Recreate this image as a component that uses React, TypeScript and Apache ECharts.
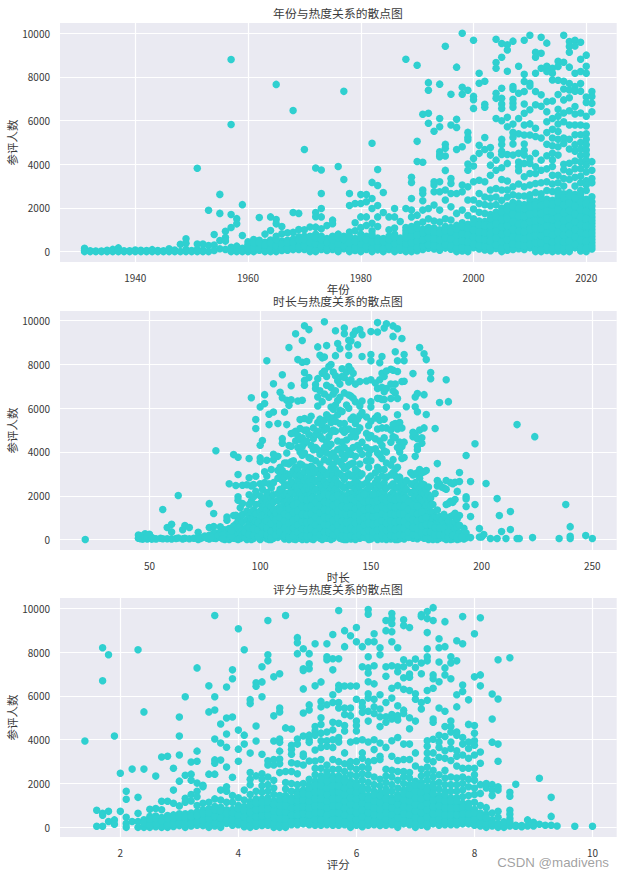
import React, { useEffect, useRef } from "react";
import * as echarts from "echarts";

const titles = ["年份与热度关系的散点图", "时长与热度关系的散点图", "评分与热度关系的散点图"];
const xNames = ["年份", "时长", "评分"];
const yName = "参评人数";
const yTicks = [0, 2000, 4000, 6000, 8000, 10000];
const yearTicks = [1940, 1960, 1980, 2000, 2020];
const lengthTicks = [50, 100, 150, 200, 250];
const ratingTicks = [2, 4, 6, 8, 10];

// each row: x value followed by the y values read at that x
const yearRows: number[][] = [
  [1931,150,60,0],[1932,40,0],[1933,30,0],[1934,30,0],[1935,60,0],[1936,100,0],[1937,170,40,0],[1938,40,0],[1939,40,0],
  [1940,70,0],[1941,60,0],[1942,50,0],[1943,90,0],[1944,50,0],[1945,40,0],[1946,130,0],[1947,70,0],[1948,340,0],
  [1949,590,380,100,0],[1950,50,0],[1951,3820,350,100,0],[1952,350,60,0],[1953,1890,280,0],[1954,780,300,50],
  [1955,2620,1750,510,130],[1956,930,640,480,100],[1957,8800,5820,1700,1100,200,0],[1958,1510,1270,250,0],[1959,2150,740,150,0],
  [1960,450,250,100,0],[1961,550,300,60,0],[1962,1560,520,250,60],[1963,800,430,150,0],[1964,1590,970,530,220,0],
  [1965,7660,1470,1270,700,400,150,0],[1966,1150,820,480,240,50],[1967,860,520,280,60],[1968,6460,1790,880,560,300,90],
  [1969,1750,1010,680,350,100],[1970,4680,1000,700,400,100],[1971,1130,560,250,0],[1972,3830,1790,1600,1120,800,500,200,0],
  [1973,3740,2660,1970,1590,1050,700,400,100],[1974,1190,600,300,50],[1975,1440,1280,700,400,100],[1976,3900,800,500,200,0],
  [1977,7340,3300,700,420,130],[1978,2660,2110,900,550,250,0],[1979,2200,1320,950,600,300,50],[1980,2610,2200,1590,1100,800,500,200,0],
  [1981,2610,2280,1590,1200,700,400,100],[1982,4960,3170,2430,1970,1300,950,600,300,0],[1983,3760,3030,2110,1590,1150,620,350,80],
  [1984,2710,1790,600,300,0],[1985,1590,1000,700,400,100],[1986,1970,1590,1080,800,500,200,0],[1987,1380,620,320,60],
  [1988,8810,1970,1100,800,500,230,0],[1989,3400,3170,2430,1900,1590,1150,850,550,260,0],[1990,8540,5050,4130,1670,1250,900,620,310,40],
  [1991,6290,4090,2820,2660,2330,1900,1350,1020,700,400,100],[1992,7740,7390,6340,5880,1970,1500,1100,780,460,150],
  [1993,5510,3200,3050,2740,2130,1400,1080,750,420,120],[1994,7670,6100,5720,4570,4420,4350,3200,2740,1900,1350,1000,680,350,60],
  [1995,9410,4910,4730,4380,3720,2820,2360,1500,1150,800,480,160],[1996,7210,5800,3350,3120,2660,2050,1450,1100,750,430,110],
  [1997,8450,6060,5690,4680,2660,1750,1200,900,600,300,0],[1998,10000,7530,7210,4800,3050,2740,1900,1320,980,650,330,30],
  [1999,7390,5460,5230,5110,4010,3730,2970,2360,1650,1250,900,600,280,0],[2000,9680,7110,6960,6560,4270,3920,3200,2360,1950,1500,1150,820,500,180],
  [2001,8170,7710,4870,4500,3270,2660,2200,1800,1400,1050,750,420,120],[2002,7800,6750,6610,5230,4680,3200,2500,2150,1750,1380,1020,700,380,70],
  [2003,4770,4420,3960,3500,2820,2450,2100,1700,1350,1000,680,350,40],[2004,9730,8660,8400,7250,7020,6100,4190,3730,2890,2500,2150,1800,1450,1100,780,460,140],
  [2005,9530,8900,7480,7020,6760,6560,5990,5140,4910,4600,4450,3840,3300,2820,2350,2000,1650,1300,950,620,300,0],
  [2006,9470,9240,8260,6150,5720,4450,4040,3230,2820,2500,2100,1700,1350,1000,700,380,60],
  [2007,9640,7560,7440,6980,6790,6610,5840,5460,5230,4930,4420,2970,2600,2250,1900,1550,1200,850,520,190],
  [2008,8490,7250,6100,5400,4500,4100,3900,3700,3100,2550,2200,1800,1450,1100,780,450,130],
  [2009,9680,8120,7790,7330,6760,6340,5800,5340,4930,4640,4420,4040,3430,2970,2550,2150,1800,1420,1080,740,420,100],
  [2010,9910,7710,7590,6500,5850,5340,4270,4040,3580,3050,2600,2250,1900,1550,1200,850,500,170],
  [2011,9130,8900,8170,7330,6730,5650,5270,4500,3890,3580,3120,2700,2300,1950,1600,1250,900,580,260,0],
  [2012,9820,9090,8400,7180,6660,5200,4190,3730,3150,2650,2300,1950,1580,1240,880,560,230,0],
  [2013,9550,8490,8250,6870,6410,5950,5450,4920,4390,3790,3200,2800,2400,2050,1700,1350,1000,700,360,50],
  [2014,8400,8170,7860,6900,6100,5600,5200,4850,4500,4200,3900,3500,3100,2750,2350,2000,1650,1300,950,600,280,0],
  [2015,8720,8480,7850,7200,6520,6200,5850,5500,5150,4800,4420,3500,3150,2800,2450,2100,1750,1400,1050,700,350,30],
  [2016,9910,8670,7800,7450,6950,6350,5950,5200,4950,4000,3750,3350,3000,2650,2300,1950,1600,1250,900,600,280,0],
  [2017,9620,9390,9130,8450,7700,7400,7050,6450,5800,5150,4700,4050,3650,3300,2700,2400,2050,1700,1350,1000,650,300,0],
  [2018,9680,9420,8170,7560,7350,6650,6300,5800,5350,4900,4600,4150,3800,3400,3000,2620,2280,1900,1550,1200,850,500,170],
  [2019,9590,8810,8250,7700,7350,6350,5800,5350,5000,4700,4400,4100,3800,3450,3150,2800,2450,2100,1750,1400,1050,700,350,30],
  [2020,9000,8490,8170,7080,6830,6200,5750,5400,5150,4900,4650,4450,4200,3950,3650,3250,3050,2800,2400,2050,1700,1350,1000,650,300,0],
  [2021,7330,7100,6790,6410,4120,3730,3350,3150,2510,2280,1900,1590,1300,1000,700,400,120],
];

// the solid band low in the first chart
const yearBand: number[][] = [
  [1960,120,340],[1961,180,420],[1962,150,400],[1963,70,300],[1964,110,380],[1965,80,280,540],[1966,140,360],[1967,160,400],[1968,190,430],[1969,210,520],
  [1970,250,550],[1971,130,400,700],[1972,100,350,650],[1973,250,550],[1974,170,420],[1975,250,550],[1976,100,350,650],[1977,270,560],[1978,120,400,700],[1979,170,450],
  [1980,100,350,650],[1981,250,550],[1982,150,450,780],[1983,210,490],[1984,150,450],[1985,250,550],[1986,100,350,650],[1987,190,470],
  [1988,120,370,650,950],[1989,130,400,700,1000],[1990,180,470,760,1080],[1991,250,550,850],[1992,300,620,940],[1993,270,590,910],[1994,200,520,840],
  [1995,320,640,970],[1996,270,590,920],[1997,150,450,750,1050],[1998,180,490,810,1150],[1999,140,440,750,1080],[2000,340,660,980,1320],
  [2001,270,590,900,1220],[2002,220,540,860,1200],[2003,190,520,840,1170,1520],[2004,300,620,940,1270,1620],[2005,150,460,790,1120,1470,1820],
  [2006,220,540,850,1180,1520,1900],[2007,100,350,680,1020,1370,1720,2070],[2008,290,610,940,1270,1620,2000],[2009,260,580,910,1250,1610,1970],
  [2010,330,670,1020,1370,1720,2070,2420],[2011,130,420,740,1070,1420,1770,2120],[2012,110,390,720,1060,1410,1760,2120,2470],
  [2013,200,530,850,1170,1520,1870,2220],[2014,140,440,770,1120,1470,1820,2170],[2015,190,520,870,1220,1570,1920,2270,2620],
  [2016,140,440,750,1070,1420,1770,2120,2470],[2017,150,470,820,1170,1520,1870,2220,2550],[2018,330,670,1020,1370,1720,2090,2450],
  [2019,190,520,870,1220,1570,1920,2270,2620],[2020,150,470,820,1170,1520,1870,2220],[2021,260,550,850,1150,1440,1740,2090],
];

const lengthRows: number[][] = [
  [21,0],[45,210,60],[46,170,40],[47,100,20],[48,260,60],[49,150,30],[50,240,60],[51,90,20],[52,50],[53,30],[55,60],[56,1370,40],[58,550,40],[60,700,350,30],
  [62,50],[63,2010,70],[65,450,30],[66,640,60],[68,550,40],[70,60],[72,330,120,0],[74,90],[77,1640,550,200,30],[79,1190,600,300,60],[80,4060,300,50],
  [82,580,350,100],[84,450,200,0],[85,1030,880,380,130],[86,2550,500,240,0],[88,3880,1100,620,300,60],[89,2470,1110,700,350,50],[90,3760,2970,1950,1800,850,500,200,0],
  [91,1450,1000,600,300,50],[92,2480,1650,1150,800,450,100],[94,2500,1300,900,550,240,0],[95,3700,2820,2050,1600,1100,700,380,80],[96,6480,2450,1750,1250,950,600,300,0],
  [97,2510,1950,1350,1000,650,350,50],[98,5480,5070,2890,2200,1600,1180,820,500,180],[100,6060,4310,3730,3560,2550,2000,1650,1300,950,620,300,0],
  [101,4520,2300,1800,1450,1100,780,450,120],[102,6620,6210,3100,2600,1900,1500,1150,800,470,150],[103,8170,3620,2900,2150,1750,1350,1000,680,350,40],
  [104,5720,5250,2550,2000,1600,1250,900,580,250,0],[105,3200,2350,1900,1500,1200,880,550,220,0],[106,7120,5830,3900,3650,2600,2050,1700,1350,1020,700,380,60],
  [108,5300,3800,3150,2800,2100,1780,1420,1090,760,430,100],[109,6730,3300,2900,2300,1850,1500,1150,820,500,170],[110,7530,6480,4610,4400,3150,2700,2200,1850,1500,1150,820,500,170],
  [111,5830,3500,2850,2450,2050,1700,1350,1000,680,350,30],[112,6360,5250,3950,3500,3000,2500,2100,1750,1400,1050,720,400,80],
  [113,8770,6130,4300,3450,2900,2450,1950,1600,1250,900,580,250,0],[114,7030,6390,4840,4260,3550,3000,2650,2200,1800,1450,1100,780,450,120],
  [115,4870,3600,3150,2550,2100,1750,1400,1050,700,350,30],[116,9400,4950,4500,3300,2900,2400,2050,1680,1320,980,650,320,0],
  [117,8220,6330,4750,4200,3200,2700,2250,1850,1500,1150,820,500,180],[118,5480,5070,4550,4000,3450,2950,2500,2100,1750,1400,1050,720,380,60],
  [119,9090,8100,6360,4650,4250,3850,3400,2900,2450,2050,1680,1320,980,650,320,0],[120,9770,7630,7270,7050,5530,4990,4400,3950,3100,2700,2250,1850,1500,1150,800,480,150],
  [121,8130,5000,4500,3300,2800,2400,2000,1650,1300,950,620,300,0],[122,9590,7400,5450,4800,3750,3100,2650,2250,1900,1550,1200,850,520,200],
  [123,5630,4300,3700,3350,2900,2450,2050,1700,1350,1000,680,350,40],[124,5100,4600,4100,3250,2750,2350,1950,1600,1250,900,580,260,0],
  [125,7080,6900,4800,4200,3600,3050,2650,2250,1900,1550,1200,850,520,190],[126,8800,7350,6510,6100,5350,4950,4100,3150,2700,2300,1900,1550,1200,850,500,170],
  [127,8420,6800,5500,4750,3900,3450,2950,2500,2100,1750,1400,1050,720,380,60],[128,8300,7600,6300,5200,4600,4000,3200,2800,2350,1950,1600,1250,900,580,250,0],
  [129,9950,8340,7700,6650,5450,5000,4200,3650,3100,2650,2250,1900,1550,1200,850,520,190],[130,8860,7450,7050,5700,5100,4450,3950,2950,2500,2100,1750,1400,1050,720,380,60],
  [131,7900,6500,5600,4700,4250,3550,3050,2600,2200,1850,1500,1150,820,500,170],[132,8000,6950,6050,5350,4900,4350,3800,3250,2750,2350,1950,1600,1250,900,580,250,0],
  [133,7650,6650,5950,5550,5000,3950,3450,2950,2500,2100,1750,1400,1050,720,380,60],[134,9540,8400,7480,6800,6150,5400,4950,3750,3200,2750,2300,1900,1550,1200,850,520,190],
  [135,8950,7250,6350,5700,4500,4100,3600,3050,2600,2200,1850,1500,1150,820,500,170],[136,8720,7100,6500,5900,5300,4150,3550,3000,2500,2100,1750,1400,1050,720,380,60],
  [137,7800,7450,5850,5000,4450,3900,3400,2900,2450,2050,1700,1350,1000,680,350,30],[138,9660,9400,7400,6700,5300,4900,4200,3700,3250,2750,2350,1950,1600,1250,900,580,250,0],
  [139,7650,6150,5000,4550,3850,3300,2900,2400,2000,1650,1300,950,620,300,0],[140,9100,8800,8420,7900,7200,6600,6000,5050,4050,3400,3000,2500,2100,1750,1400,1050,720,380,60],
  [141,9070,7750,7300,6550,5500,4700,3900,3450,2900,2450,2050,1700,1350,1000,680,350,30],[142,9370,7600,6450,5600,4950,4200,3500,2950,2550,2150,1800,1450,1100,780,450,120],
  [143,9530,7100,6300,5300,4700,3800,3200,2750,2350,1950,1600,1250,900,580,260,0],[144,8900,5500,4950,4300,3100,2600,2250,1900,1550,1200,850,520,200],
  [145,9590,7220,6100,5650,5100,4100,3450,2900,2450,2100,1750,1400,1050,720,380,60],[146,9360,8360,6330,5800,4450,3900,3000,2500,2150,1800,1450,1100,780,450,120],
  [148,7240,5600,4850,4200,3600,2600,2250,1900,1550,1200,850,520,190],[149,5200,4650,3900,3300,2800,2350,1950,1600,1250,900,580,260,0],
  [150,9500,8450,8170,7300,6300,6050,5400,4750,4100,3600,2900,2450,2050,1700,1350,1000,680,350,30],[152,7150,5550,4600,4150,3050,2600,2250,1900,1550,1200,850,520,190],
  [153,9910,9480,6900,6450,5650,5050,3950,3300,2750,2350,1950,1600,1250,900,580,260,0],[154,8080,7300,6440,5450,4500,3850,3200,2500,2100,1750,1400,1050,720,380,60],
  [155,8360,7600,6950,6400,5100,4300,3700,2900,2450,2050,1700,1350,1000,680,350,30],[156,9660,7450,6750,6400,5500,4650,4050,3200,2600,2200,1850,1500,1150,820,500,170],
  [157,9860,7700,6900,6050,5100,4000,3500,2850,2350,1950,1600,1250,900,580,260,0],[159,7780,7100,6440,5000,4450,3400,2950,2450,2050,1700,1350,1000,680,350,30],
  [160,9760,9280,7730,6800,5250,4700,3650,3050,2550,2150,1800,1450,1100,780,450,120],[161,8580,7100,6700,5300,4650,3200,2900,2400,2000,1650,1300,950,620,300,0],
  [162,9630,8170,7680,6440,5700,5050,4200,3300,2750,2350,1950,1600,1250,900,580,250,0],[163,5350,4450,4000,2850,2450,2050,1700,1350,1000,680,350,40],
  [164,9180,7220,5100,4250,3700,2600,2200,1850,1500,1150,820,500,170],[165,8450,8170,7230,4450,3750,2450,2050,1700,1350,1000,680,350,30],
  [166,6070,2700,2300,1900,1550,1200,850,520,190],[168,3050,2550,2150,1800,1450,1100,780,450,120],[169,7580,4900,4700,2950,2500,2100,1750,1400,1050,720,380,60],
  [170,6510,6070,4800,3800,3000,2600,2250,1900,1550,1200,850,520,200],[171,6670,5840,4600,4250,4100,3050,2450,2050,1700,1350,1000,680,350,40],
  [172,8770,5000,3200,2800,2300,1900,1550,1200,850,520,190],[173,4650,4400,3050,2550,2150,1800,1450,1100,780,450,120],[174,8490,6620,5100,3100,2500,2100,1750,1400,1050,720,380,60],
  [175,8220,5710,3150,2300,1900,1550,1200,850,520,200],[176,2400,2050,1650,1300,950,620,300,0],[177,7630,7350,1900,1550,1200,850,520,190],
  [178,1600,1250,950,620,300,0],[179,5070,2100,1050,700,380,60],[180,3470,2700,2450,1350,1000,600,300,0],[181,6260,2550,1050,720,380,60],[182,2400,900,500,180],
  [183,2350,1150,700,380,60],[184,7300,2700,2300,1600,1000,600,280,0],[185,6300,1650,850,520,200],[186,2600,1750,1050,600,280,0],[187,2550,1700,1100,700,350,30],
  [188,2620,1830,1200,800,450,120],[189,2200,950,560,250,0],[190,3060,2650,1100,650,300,40],[192,520,220,30],[193,3840,1950,1850,1510,300,80],[195,2650,1050,90],
  [197,4380,1600],[199,500,120],[200,120],[201,230],[202,2560],[204,50],[207,1870,50],[208,1100],[209,365],[211,50],[213,1280,457],[216,5250,50],[217,50],[223,90],[224,4700],
  [235,50],[238,1600],[240,590,150,50],[247,180],[250,50],
];

// the solid band low in the second chart
const lengthBand: number[][] = [
  [73,50],[75,160],[76,60],[78,120],[81,180],[83,220,40],[87,150,400],[92,230],[93,100,350],[95,220,540],[97,180,500],[99,140,450,780],
  [101,280,620],[103,200,520,850],[105,100,380,720],[107,210,540,880,1230],[109,340,660,1000,1320],[111,190,520,850,1180],
  [113,120,420,750,1080,1420],[115,190,530,880,1230,1580],[117,340,660,1000,1320,1680],[119,160,480,820,1150,1500,1860],
  [121,150,460,790,1130,1480,1820],[123,190,510,840,1180,1520,1870],[125,100,350,680,1030,1370,1720],[127,220,540,880,1220,1570,1920],
  [129,100,350,680,1020,1370,1720,2070],[131,330,660,980,1320,1670,2020],[133,210,540,880,1220,1570,1920],[135,330,660,980,1320,1670,2020],
  [137,180,510,840,1170,1520,1870],[139,150,460,790,1130,1470,1820],[141,180,510,840,1170,1520,1870],[143,120,420,740,1070,1420,1770],
  [145,210,540,880,1220,1570,1920],[147,100,350,680,1020,1370,1720,2070],[149,120,420,740,1070,1420,1770],[151,100,350,690,1040,1380,1730,2080],
  [153,120,420,740,1070,1420,1770],[155,200,520,850,1180,1520,1870],[157,130,420,740,1070,1420,1770],[159,190,510,840,1170,1520,1870],
  [161,150,460,790,1130,1470,1820],[163,200,520,850,1180,1520,1870],[165,190,510,840,1170,1520,1870],[167,100,350,680,1020,1370,1720],
  [169,220,550,890,1220,1570],[171,190,510,840,1170,1520],[173,290,610,940,1270],[175,100,350,680,1020],[177,100,350,680],[179,210,540],
  [181,210,540],[183,200,520],[185,100,350],[187,180],[189,100],[191,120],
];

const ratingRows: number[][] = [
  [1.4,3940],[1.6,780,50],[1.7,8200,6690,640,550,50],[1.8,7880,730,270],[1.9,4170,340,140],[2,2470,730],[2.1,1650,1280,460,180,0],[2.2,2660,270],
  [2.3,8110,1370,640,270,0],[2.4,5270,2660,350,100,0],[2.5,830,500,250,0],[2.6,2340,860,520,260,30],[2.7,3210,1190,800,450,160,0],[2.8,3250,1190,540,260,0],
  [2.9,2700,1700,1100,570,300,40],[3,5040,4170,3300,2110,980,620,320,80],[3.1,5960,2380,1330,1150,620,300,0],[3.2,2980,2430,2150,1500,1200,650,330,60],
  [3.3,7280,3480,3020,2020,1650,1400,1000,700,380,100],[3.4,1920,1850,1100,800,480,180],[3.5,6460,5270,2430,1150,850,520,220,0],
  [3.6,9670,5960,5360,4030,3080,2930,2430,1300,950,650,350,60],[3.7,4720,3850,3070,1700,1250,920,580,280,0],[3.8,6410,4990,4260,3660,2750,1850,1650,1150,800,480,180],
  [3.9,7190,6780,5040,2290,1450,1150,820,500,200],[4,9070,4440,3570,3020,1350,1000,720,400,120],[4.1,8110,4210,3800,1700,1250,950,620,320,30],
  [4.2,5830,5650,3390,2500,2200,1950,1500,1180,850,520,220,0],[4.3,6600,6440,4630,3940,2350,1650,1300,980,650,340,50],
  [4.4,7330,6640,5960,3340,2450,2200,1900,1600,1300,1000,680,380,90],[4.5,9440,7880,7600,3040,2850,2300,1950,1650,1350,1020,700,400,100],
  [4.6,6870,5090,3940,3100,2850,2150,1800,1500,1200,900,600,300,0],[4.7,7010,5450,5270,4030,3880,3480,3120,2900,2500,1450,1150,850,550,250,0],
  [4.8,9670,4540,2550,2050,1750,1450,1150,850,550,250,0],[4.9,4490,3750,3550,3340,2950,2550,2000,1650,1350,1050,720,420,120],
  [5,8660,8430,7930,4030,3800,2900,2450,1950,1650,1350,1050,720,420,120],[5.1,8150,7240,7160,6320,5220,4170,3350,3250,2850,2000,1700,1400,1100,780,470,160],
  [5.2,7930,7470,7240,5590,5360,4210,4000,3880,3030,2200,1950,1650,1350,1050,720,420,120],[5.3,8380,6460,4600,4400,4200,3530,3030,2700,2400,2100,1750,1450,1150,820,520,210],
  [5.4,6640,5750,5500,5000,4700,4300,3950,3650,3100,2700,2350,2050,1750,1450,1150,820,520,200],[5.5,8380,7790,7650,5600,4350,3950,3700,2850,2550,2250,1950,1650,1350,1050,720,420,120],
  [5.6,8800,7700,7190,6050,5700,4800,4450,4000,3650,3100,2650,2350,2050,1750,1450,1150,820,520,200],[5.7,9900,7700,6480,6300,5700,5450,4750,4100,3900,3000,2650,2350,2050,1750,1450,1150,820,520,200],
  [5.8,8980,8250,6450,5450,5150,4650,4400,3400,2900,2550,2250,1950,1650,1350,1050,720,420,120],[5.9,8750,6450,5450,5100,3900,3000,2750,2400,2100,1800,1500,1200,900,600,300,0],
  [6,9120,8470,6450,5850,4850,4650,4400,3950,3000,2650,2350,2050,1750,1450,1150,820,520,200],[6.1,8250,7330,5700,5500,5250,4000,3400,3150,2750,2450,2150,1850,1550,1250,950,620,320,30],
  [6.2,9940,9730,8470,7790,7280,7050,6650,6100,5900,5300,4850,3900,3000,2700,2400,2050,1750,1450,1150,820,520,200],[6.3,8840,8470,7380,6550,5850,5500,5200,4000,3550,3050,2300,1950,1650,1350,1050,720,420,120],
  [6.4,8200,7880,6050,5400,5050,4600,3850,3250,3100,2200,1900,1600,1300,1000,680,380,90],[6.5,9440,8980,7330,6900,5700,5050,4800,3650,2650,2350,2050,1750,1450,1150,820,520,200],
  [6.6,9760,9530,9300,8930,8470,7380,6350,5900,5150,4950,3950,3250,2600,2300,1950,1650,1350,1050,720,420,120],[6.7,8200,7330,7100,6470,5550,5100,4900,4100,3050,2550,2150,1800,1500,1200,900,600,300,0],
  [6.8,9480,9210,7650,7330,6830,6300,5350,5200,3800,3100,2550,2300,2000,1700,1400,1100,780,470,160],[6.9,9120,7500,7000,6850,6250,5000,4500,3800,3100,2500,2250,1950,1650,1350,1050,720,420,120],
  [7,7680,7300,6100,5850,4850,3400,2800,2100,1800,1500,1200,900,600,300,0],[7.1,9710,9620,7500,7010,5700,5400,2650,2350,2050,1750,1450,1150,820,520,200],
  [7.2,9850,9530,8890,8150,7790,7600,6250,5800,3950,3700,3400,3100,2750,2450,2150,1850,1550,1250,950,620,320,30],[7.3,10030,9440,6960,6780,6350,4950,4800,4020,3400,3000,2600,2300,2000,1700,1400,1100,780,470,160],
  [7.4,8610,8200,7550,6650,5450,4200,3900,3650,3200,2400,2050,1750,1450,1150,820,520,200],[7.5,9390,8250,7280,6960,5300,4600,4150,3500,3150,2600,2250,1950,1650,1350,1050,720,420,120],
  [7.6,7790,7500,6780,4850,4600,4350,3900,3600,3050,2300,1950,1650,1350,1050,720,420,120],[7.7,8520,7600,6050,5500,4350,4200,3500,3250,2800,2250,1950,1650,1350,1050,720,420,120],
  [7.8,9620,8380,6500,6200,4100,3800,3300,2700,2300,2000,1700,1400,1100,780,470,160],[7.9,5820,4700,3900,3600,3150,2700,2200,1850,1450,1100,780,470,160],
  [8,8840,6870,4650,4300,3950,3750,3300,2700,2400,2150,1800,1500,1150,820,520,200],[8.1,9570,6960,6460,3440,2930,1950,1550,1000,650,350,60],[8.2,2000,1800,900,600,300,0],
  [8.3,6090,4950,3890,1950,1700,1450,650,350,60],[8.4,7650,5860,3800,3020,1850,1700,730,460,180,0],[8.5,120,0],[8.6,7740,1600,1420,780,600,410,130],[8.7,1970,100],[8.8,80],
  [8.9,340,60],[9,230,60],[9.1,2240,140],[9.2,100],[9.3,1370,500,100],[9.4,60],[9.7,50],[10,50],
];

// the solid band low in the third chart
const ratingBand: number[][] = [
  [2.4,210],[2.5,110,380],[2.6,140,400],[2.7,300],[2.8,120,400],[2.9,170,440],[3,190,470],[3.1,150,460],[3.2,190,490],[3.3,240,540],
  [3.4,80,330,640],[3.5,100,370,680],[3.6,210,500,800],[3.7,140,430,750],[3.8,330,640],[3.9,100,350,660],[4,270,560,860],
  [4.1,170,470,780],[4.2,100,370,680,1020],[4.3,190,500,810,1140],[4.4,230,530,840,1150],[4.5,250,550,850,1180],
  [4.6,150,450,750,1050],[4.7,100,400,700,1000,1300],[4.8,100,400,700,1000,1300],[4.9,270,570,880,1200],
  [5,270,570,880,1200,1500],[5.1,310,620,940,1250,1550],[5.2,270,570,880,1200,1500,1800],[5.3,100,360,670,980,1300,1600,1920],
  [5.4,100,360,670,980,1300,1600,1900,2200],[5.5,270,570,880,1200,1500,1800,2100,2400],[5.6,100,360,670,980,1300,1600,1900,2200],
  [5.7,100,360,670,980,1300,1600,1900,2200],[5.8,270,570,880,1200,1500,1800,2100],[5.9,150,450,750,1050,1350,1650,1950],
  [6,100,360,670,980,1300,1600,1900],[6.1,170,470,790,1100,1400,1700],[6.2,100,360,670,980,1300],[6.3,270,570,880,1200,1500],
  [6.4,230,530,830,1150,1450],[6.5,100,360,670,980,1300,1600],[6.6,270,570,880,1200],[6.7,150,450,750,1050,1350],
  [6.8,310,620,940,1250,1550],[6.9,270,570,880,1200,1500,1800],[7,150,450,750,1050,1350,1650,1950],[7.1,100,360,670,980,1300,1600,1900],
  [7.2,170,470,790,1100,1400,1700],[7.3,310,620,940,1250,1550,1850],[7.4,100,360,670,980,1300],[7.5,270,570,880,1200,1500],
  [7.6,270,570,880,1200],[7.7,270,570,880,1200],[7.8,310,620,940],[7.9,310,620,940],[8,100,360,670],
  [8.1,200,500],[8.2,150,450],[8.3,200],[8.4,100],[8.5,60,260],[8.6,60,270],[8.7,50],[8.8,30],
];

const toPoints = (rows: number[][]) => rows.flatMap(([x, ...ys]) => ys.map((y) => [x, y]));

const textColor = "#3a3a3a";
const font = '"Noto Sans CJK SC"';
const lefts = 60;
const plotWidth = 556.7;
const tops = [23, 311, 598];
const plotHeight = 239;
const titleTops = [7, 295, 583];
const xRanges = [[1926.65, 2025.4], [9.6, 261], [0.978, 10.41]];
const yRanges = [[-477, 10472], [-477, 10440], [-440, 10470]];
const xTicks = [yearTicks, lengthTicks, ratingTicks];
const rows = [[...yearRows, ...yearBand], [...lengthRows, ...lengthBand], [...ratingRows, ...ratingBand]];
const plain = (v: number) => String(v);

export default function App() {
  const ref = useRef<HTMLDivElement>(null);
  useEffect(() => {
    document.body.style.margin = "0";
    const chart = echarts.init(ref.current!, undefined, { renderer: "svg" });
    chart.setOption({
      animation: false,
      backgroundColor: "#ffffff",
      textStyle: { fontFamily: font },
      title: titles.map((text, i) => ({
        text, left: 333, top: titleTops[i], textAlign: "center", textVerticalAlign: "middle",
        textStyle: { fontSize: 11.8, fontWeight: "normal", color: textColor, fontFamily: font },
      })),
      grid: tops.map((top) => ({
        left: lefts, top, width: plotWidth, height: plotHeight, show: true, outerBoundsMode: "none",
        backgroundColor: "#EAEAF2", borderWidth: 0, containLabel: false,
      })),
      xAxis: tops.map((_, i) => ({
        type: "value", gridIndex: i, min: xRanges[i][0], max: xRanges[i][1],
        name: xNames[i], nameLocation: "middle", nameGap: 21, nameMoveOverlap: false,
        nameTextStyle: { fontSize: 11.5, color: textColor, fontFamily: font },
        axisLine: { show: false },
        axisTick: { show: false, customValues: xTicks[i] },
        axisLabel: { customValues: xTicks[i], formatter: plain, fontSize: 10, color: textColor, margin: 10, fontFamily: font },
        splitLine: { show: true, lineStyle: { color: "#ffffff", width: 1.2 } },
      })),
      yAxis: tops.map((_, i) => ({
        type: "value", gridIndex: i, min: yRanges[i][0], max: yRanges[i][1],
        name: yName, nameLocation: "middle", nameGap: 42, nameRotate: 90, nameMoveOverlap: false,
        nameTextStyle: { fontSize: 11.5, color: textColor, fontFamily: font },
        axisLine: { show: false },
        axisTick: { show: false, customValues: yTicks },
        axisLabel: { customValues: yTicks, formatter: plain, fontSize: 10, color: textColor, margin: 10, fontFamily: font },
        splitLine: { show: true, lineStyle: { color: "#ffffff", width: 1.2 } },
      })),
      series: rows.map((r, i) => ({
        type: "scatter", xAxisIndex: i, yAxisIndex: i, data: toPoints(r),
        symbol: "circle", symbolSize: 7.5, itemStyle: { color: "#2FD0D0", opacity: 1 }, clip: false,
      })),
      graphic: [{
        type: "text", right: 15, top: 856, z: 100,
        style: { text: "CSDN @madivens", fontSize: 13.3, fontFamily: '"Liberation Sans"', fill: "rgba(120,120,120,0.7)" },
      }],
    });
    return () => chart.dispose();
  }, []);
  return <div ref={ref} style={{ width: 624, height: 877 }} />;
}
